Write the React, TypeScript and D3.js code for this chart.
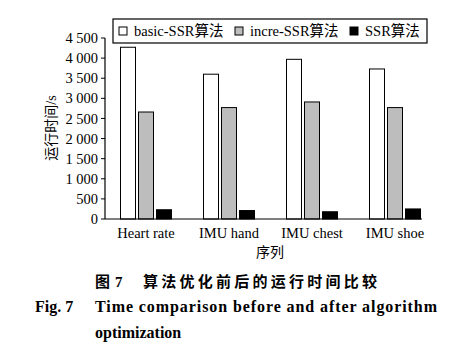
import React from "react";
import * as d3 from "d3";

const categories = ["Heart rate", "IMU hand", "IMU chest", "IMU shoe"];
const seriesNames = ["basic-SSR算法", "incre-SSR算法", "SSR算法"];
const basicSSR = [4270, 3600, 3970, 3730];
const increSSR = [2660, 2770, 2910, 2770];
const ssr = [230, 210, 180, 250];
const yTicks = [0, 500, 1000, 1500, 2000, 2500, 3000, 3500, 4000, 4500];
const colors = ["#ffffff", "#bdbdbd", "#000000"];

const FONT = "Liberation Serif, DejaVu Serif, Noto Sans CJK SC, serif";

export default function App() {
  const W = 469, H = 356;
  const x0 = 105, x1 = 422, yTop = 38, yBot = 219;
  const y = d3.scaleLinear().domain([0, 4500]).range([yBot, yTop]);
  const xb = d3.scaleBand().domain(categories).range([104.5, 436.5]).paddingInner(0).paddingOuter(0);
  const series = [basicSSR, increSSR, ssr];
  const barW = 15, gap = 3;
  const fmt = (v: number) => d3.format(",")(v).replace(/,/g, " ");

  return (
    <svg width={W} height={H} style={{ position: "absolute", left: 0, top: 0, background: "#fff", fontFamily: FONT }}>
      {categories.map((c, i) => {
        const cx = (xb(c) as number) + xb.bandwidth() / 2;
        return series.map((s, k) => {
          const bx = cx - (3 * barW + 2 * gap) / 2 + k * (barW + gap);
          return (
            <rect key={c + k} x={bx} y={y(s[i])} width={barW} height={yBot - y(s[i])}
              fill={colors[k]} stroke="#000" strokeWidth={1} />
          );
        });
      })}
      <line x1={x0} x2={x0} y1={yTop} y2={yBot} stroke="#000" strokeWidth={1.2} />
      <line x1={x0} x2={x1} y1={yBot} y2={yBot} stroke="#000" strokeWidth={1.2} />
      {yTicks.map((t) => (
        <g key={t}>
          <line x1={x0 - 4} x2={x0} y1={y(t)} y2={y(t)} stroke="#000" strokeWidth={1} />
          <text x={x0 - 7} y={y(t)} dy="0.35em" textAnchor="end" fontSize={14.5}>{fmt(t)}</text>
        </g>
      ))}
      {categories.map((c) => (
        <text key={c} x={(xb(c) as number) + xb.bandwidth() / 2} y={238} textAnchor="middle" fontSize={14.5}>{c}</text>
      ))}
      <text x={270} y={257} textAnchor="middle" fontSize={14}>序列</text>
      <text transform={`translate(56,128) rotate(-90)`} textAnchor="middle" fontSize={14}>运行时间/s</text>
      <rect x={113} y={19} width={314} height={24} fill="#fff" stroke="#000" strokeWidth={1.2} />
      {seriesNames.map((n, k) => {
        const lx = [119, 235, 350][k];
        return (
          <g key={n}>
            <rect x={lx} y={27} width={8} height={8} fill={colors[k]} stroke="#000" strokeWidth={1} />
            <text x={lx + 15} y={36} fontSize={14.5}>{n}</text>
          </g>
        );
      })}
      <g style={{ fontFamily: "Noto Sans CJK SC, sans-serif" }} fontWeight="bold" fontSize={15}>
        <text x={95} y={287}>图</text>
        <text x={115} y={287} style={{ fontFamily: FONT }}>7</text>
        <text x={143} y={287} textLength={234} lengthAdjust="spacing">算法优化前后的运行时间比较</text>
      </g>
      <text x={35} y={312} fontSize={16} fontWeight="bold">Fig. 7</text>
      <text x={95} y={312} fontSize={16} fontWeight="bold" textLength={342} lengthAdjust="spacing">Time comparison before and after algorithm</text>
      <text x={95} y={338} fontSize={16} fontWeight="bold">optimization</text>
    </svg>
  );
}
